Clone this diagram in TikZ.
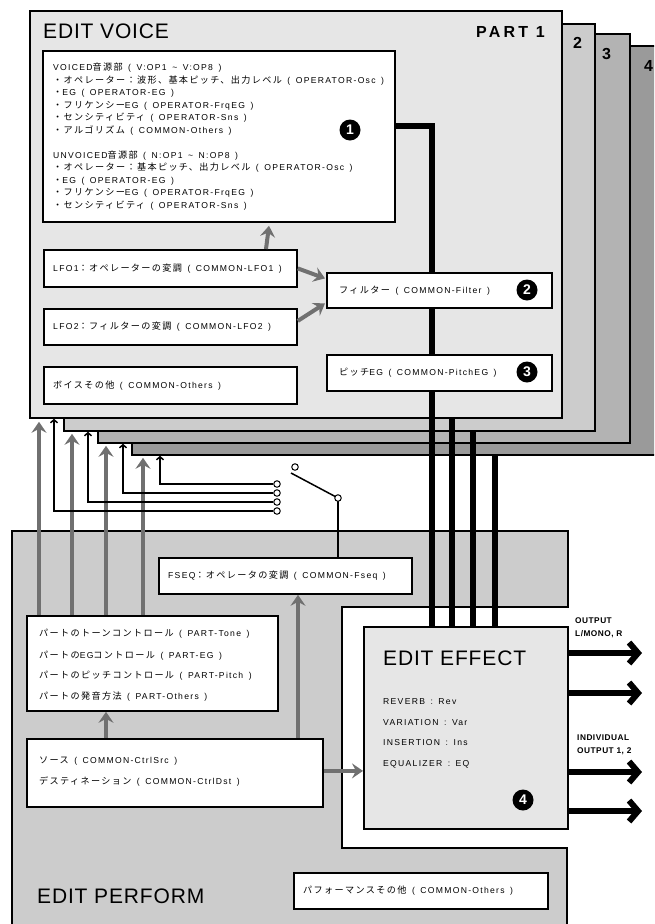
\documentclass[tikz,border=0pt]{standalone}
\usepackage{fontspec}
\setmainfont{Liberation Sans}
\newfontfamily\latf{Liberation Sans}[LetterSpace=15,WordSpace=1.5]
\newfontfamily\jpf{Noto Sans CJK JP}[LetterSpace=15,Scale=1.06]
\newfontfamily\ttlf{Liberation Sans}[LetterSpace=4]
\newfontfamily\bldf{Liberation Sans}[LetterSpace=20]
\newfontfamily\outf{Liberation Sans}[LetterSpace=6]
\usetikzlibrary{arrows.meta,calc}

\newcommand\smtxt{\latf\fontsize{8.6}{10}\selectfont}
\newcommand\JP[1]{{\jpf #1}}
\newcommand\ttltxt{\ttlf\fontsize{21}{24}\selectfont}
\newcommand\parttxt{\bldf\bfseries\fontsize{16}{18}\selectfont}
\newcommand\outtxt{\outf\bfseries\fontsize{8.3}{13}\selectfont}

\definecolor{panelA}{HTML}{E6E6E6}
\definecolor{panelB}{HTML}{CCCCCC}
\definecolor{panelC}{HTML}{B3B3B3}
\definecolor{panelD}{HTML}{9A9A9A}
\definecolor{perf}{HTML}{CCCCCC}
\definecolor{garrowc}{HTML}{707070}

\tikzset{
  every node/.style={inner sep=0pt},
  partbox/.style={draw, line width=1.8pt, anchor=north west},
  box/.style={draw, fill=white, line width=1.8pt, anchor=north west},
  lbl/.style={anchor=base west, font=\smtxt},
  boxtext/.style={anchor=west, font=\smtxt},
  badge/.style={circle, fill=black, minimum size=21pt, text=white,
    font=\bfseries\fontsize{14}{14}\selectfont},
  garrow/.style={draw=garrowc, line width=4pt,
    -{Stealth[length=11pt,width=15pt,inset=4pt]}},
  tarrow/.style={line width=1.5pt, -{Straight Barb[length=3pt,width=7pt]}},
  sigline/.style={line width=5.5pt},
  outarrow/.style={line width=6pt, -{Straight Barb[length=9pt,width=21pt]}},
  contact/.style={circle, draw, fill=white, line width=1pt, minimum size=6.5pt},
  wire/.style={line width=1.5pt},
}

\begin{document}
\begin{tikzpicture}[x=1pt,y=-1pt]
\useasboundingbox (0,0) rectangle (654,924);
\clip (0,0) rectangle (654,924);

% stacked voice parts, back to front
\node[partbox, fill=panelD, minimum width=540pt, minimum height=409pt] (p4) at (131,45) {};
\node[partbox, fill=panelC, minimum width=532pt, minimum height=409pt] (p3) at (97,33) {};
\node[partbox, fill=panelB, minimum width=531pt, minimum height=407pt] (p2) at (63,23) {};
\node[partbox, fill=panelA, minimum width=532pt, minimum height=407pt] (p1) at (29,10) {};
\node[anchor=base west, font=\parttxt] (l4) at (644,71) {4};
\node[anchor=base west, font=\parttxt] (l3) at (602,59) {3};
\node[anchor=base west, font=\parttxt] (l2) at (573,48) {2};
\node[anchor=base west, font=\parttxt] (l1) at (476,37) {PART 1};
\node[anchor=base west, font=\ttltxt] (tv) at (43,38) {EDIT VOICE};

% performance area with the notch for the effect block
\draw[line width=1.8pt, fill=perf]
  (12,531) -- (568,531) -- (568,607) -- (342,607) -- (342,848)
  -- (567,848) -- (567,940) -- (12,940) -- cycle;

% x positions of the vertical connectors
\coordinate (g1) at (39,0);  \coordinate (g2) at (72,0);
\coordinate (g3) at (106,0); \coordinate (g4) at (143,0);
\coordinate (t1) at (54,0);  \coordinate (t2) at (88,0);
\coordinate (t3) at (123,0); \coordinate (t4) at (160,0);
\coordinate (s1) at (432,0); \coordinate (s2) at (452,0);
\coordinate (s3) at (473,0); \coordinate (s4) at (495,0);

\node[draw, fill=panelA, line width=1.8pt, anchor=north west,
  minimum width=204pt, minimum height=202pt] (effect) at (363,626) {};

% voice blocks
\node[box, minimum width=352pt, minimum height=171pt] (box1) at (42,50) {};
\draw[sigline] ($(box1.north east)+(0,76)$) -| (effect.north -| s1);
\node[box, minimum width=253pt, minimum height=37pt] (lfo1) at (43,249) {};
\node[boxtext] at ([xshift=10pt]lfo1.west) {LFO1\JP{：オペレーターの変調} ( COMMON-LFO1 )};
\node[box, minimum width=253pt, minimum height=36pt] (lfo2) at (43,308) {};
\node[boxtext] at ([xshift=10pt]lfo2.west) {LFO2\JP{：フィルターの変調} ( COMMON-LFO2 )};
\node[box, minimum width=253pt, minimum height=37pt] (vothers) at (43,366) {};
\node[boxtext] at ([xshift=10pt]vothers.west) {\JP{ボイスその他} ( COMMON-Others )};
\node[box, minimum width=225pt, minimum height=35pt] (filter) at (326,272) {};
\node[boxtext] at ([xshift=13pt]filter.west) {\JP{フィルター} ( COMMON-Filter )};
\node[box, minimum width=225pt, minimum height=36pt] (pitch) at (326,354) {};
\node[boxtext] at ([xshift=13pt]pitch.west) {\JP{ピッチ}EG ( COMMON-PitchEG )};

% operator list
\node[lbl] at (53,70.7) {VOICED\JP{音源部} ( V:OP1 \textasciitilde{} V:OP8 )};
\node[lbl] at (53,83.2) {\JP{・オペレーター：波形、基本ピッチ、出力レベル} ( OPERATOR-Osc )};
\node[lbl] at (53,95.7) {\JP{・}EG ( OPERATOR-EG )};
\node[lbl] at (53,108.2) {\JP{・フリケンシー}EG ( OPERATOR-FrqEG )};
\node[lbl] at (53,120.7) {\JP{・センシティビティ} ( OPERATOR-Sns )};
\node[lbl] at (53,133.2) {\JP{・アルゴリズム} ( COMMON-Others )};
\node[lbl] at (53,158.2) {UNVOICED\JP{音源部} ( N:OP1 \textasciitilde{} N:OP8 )};
\node[lbl] at (53,170.7) {\JP{・オペレーター：基本ピッチ、出力レベル} ( OPERATOR-Osc )};
\node[lbl] at (53,183.2) {\JP{・}EG ( OPERATOR-EG )};
\node[lbl] at (53,195.7) {\JP{・フリケンシー}EG ( OPERATOR-FrqEG )};
\node[lbl] at (53,208.2) {\JP{・センシティビティ} ( OPERATOR-Sns )};

% part outputs into the effect block
\draw[sigline] (p1.south -| s2) -- (effect.north -| s2);
\draw[sigline] (p2.south -| s3) -- (effect.north -| s3);
\draw[sigline] (p4.south -| s4) -- (effect.north -| s4);

% performance blocks
\node[box, minimum width=253pt, minimum height=36pt] (fseq) at (158,557) {};
\node[boxtext] at ([xshift=10pt]fseq.west) {FSEQ\JP{：オペレータの変調} ( COMMON-Fseq )};
\node[box, minimum width=251pt, minimum height=95pt] (parttone) at (26,615) {};
\node[lbl] at (39,636.7) {\JP{パートのトーンコントロール} ( PART-Tone )};
\node[lbl] at (39,658.7) {\JP{パートの}EG\JP{コントロール} ( PART-EG )};
\node[lbl] at (39,678.7) {\JP{パートのピッチコントロール} ( PART-Pitch )};
\node[lbl] at (39,699.7) {\JP{パートの発音方法} ( PART-Others )};
\node[box, minimum width=296pt, minimum height=68pt] (ctrl) at (26,738) {};
\node[lbl] at (39,763.7) {\JP{ソース} ( COMMON-CtrlSrc )};
\node[lbl] at (39,784.7) {\JP{デスティネーション} ( COMMON-CtrlDst )};
\node[box, minimum width=254pt, minimum height=36pt] (pothers) at (293,872) {};
\node[boxtext] at ([xshift=10pt]pothers.west) {\JP{パフォーマンスその他} ( COMMON-Others )};
\node[anchor=base west, font=\ttltxt] (tp) at (37,903) {EDIT PERFORM};

% effect block contents
\node[anchor=base west, font=\ttltxt] (te) at (383,665) {EDIT EFFECT};
\node[lbl] at (383,704.7) {REVERB : Rev};
\node[lbl] at (383,725.7) {VARIATION : Var};
\node[lbl] at (383,745.7) {INSERTION : Ins};
\node[lbl] at (383,766.7) {EQUALIZER : EQ};

% outputs
\coordinate (o1) at (642,653); \coordinate (o2) at (642,693);
\coordinate (o3) at (642,772); \coordinate (o4) at (642,811);
\foreach \o in {o1,o2,o3,o4} \draw[outarrow] (effect.east |- \o) -- (\o);
\node[anchor=base west, font=\outtxt] at (575,623) {OUTPUT};
\node[anchor=base west, font=\outtxt] at (575,636) {L/MONO, R};
\node[anchor=base west, font=\outtxt] at (577,740) {INDIVIDUAL};
\node[anchor=base west, font=\outtxt] at (577,753) {OUTPUT 1, 2};

% modulation arrows
\draw[garrow] ($(lfo1.north west)+(223,0)$) -- ($(box1.south west)+(227,3)$);
\draw[garrow] (lfo1.east) -- ($(filter.west)+(-1,-12)$);
\draw[garrow] ($(lfo2.east)+(0,-6)$) -- ($(filter.west)+(-1,13)$);
\draw[garrow] (parttone.north -| g1) -- ([yshift=-3pt]p1.south -| g1);
\draw[garrow] (parttone.north -| g2) -- ([yshift=-2pt]p2.south -| g2);
\draw[garrow] (parttone.north -| g3) -- ([yshift=-2pt]p3.south -| g3);
\draw[garrow] (parttone.north -| g4) -- ([yshift=-2pt]p4.south -| g4);
\coordinate (ga) at (298,0);
\draw[garrow] (ctrl.north -| g3) -- (parttone.south -| g3);
\draw[garrow] (ctrl.north -| ga) -- (fseq.south -| ga);
\coordinate (ce) at ($(ctrl.east)+(0,-2)$);
\draw[garrow] (ce) -- (effect.west |- ce);

% FSEQ selector switch
\node[contact] (c1) at (277,484) {};
\node[contact] (c2) at (277,493) {};
\node[contact] (c3) at (277,502) {};
\node[contact] (c4) at (277,511) {};
\draw[tarrow] (c1.west) -| (p4.south -| t4);
\draw[tarrow] (c2.west) -| (p3.south -| t3);
\draw[tarrow] (c3.west) -| (p2.south -| t2);
\draw[tarrow] (c4.west) -| (p1.south -| t1);
\coordinate (lever) at (291,473);
\coordinate (pvx) at (338,0);
\draw[wire] (338,498) -- (lever);
\draw[wire] (338,498) -- (fseq.north -| pvx);
\node[contact] (sw) at (295,467) {};
\node[contact] (pv) at (338,498) {};

% numbered badges
\node[badge] (b1) at (350,130) {1};
\node[badge] (b2) at (527,290) {2};
\node[badge] (b3) at (527,372) {3};
\node[badge] (b4) at (523,800) {4};
\end{tikzpicture}
\end{document}
